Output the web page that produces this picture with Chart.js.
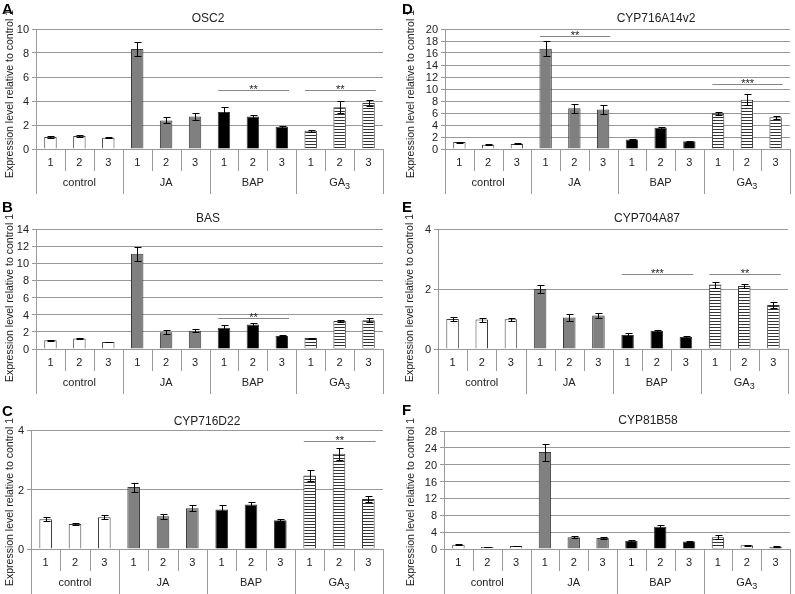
<!DOCTYPE html>
<html>
<head>
<meta charset="utf-8">
<script src="https://cdn.jsdelivr.net/npm/chart.js@4.4.1/dist/chart.umd.min.js"></script>
<style>
  body { margin: 0; background: #fff; width: 795px; height: 594px; position: relative; overflow: hidden; }
  canvas { position: absolute; }
</style>
</head>
<body>
<script>
// sample labels and treatment groups (shared by all panels)
const samples = ['1', '2', '3', '1', '2', '3', '1', '2', '3', '1', '2', '3'];
const treatments = ['control', 'JA', 'BAP', 'GA|3'];

// A - OSC2
const osc2Mean = [1.0, 1.08, 0.93, 8.33, 2.38, 2.7, 3.08, 2.7, 1.85, 1.52, 3.48, 3.83];
const osc2Err = [0.05, 0.07, 0.05, 0.55, 0.25, 0.28, 0.38, 0.15, 0.06, 0.08, 0.52, 0.25];
const osc2Ticks = [0, 2, 4, 6, 8, 10];
const osc2Sig = [[6, 8, 4.95, '**'], [9, 11, 4.95, '**']];

// B - BAS
const basMean = [1.03, 1.22, 0.82, 11.1, 1.96, 2.12, 2.48, 2.85, 1.52, 1.27, 3.28, 3.36];
const basErr = [0.06, 0.08, 0.05, 0.85, 0.2, 0.18, 0.3, 0.22, 0.06, 0.07, 0.15, 0.22];
const basTicks = [0, 2, 4, 6, 8, 10, 12, 14];
const basSig = [[6, 8, 3.6, '**']];

// C - CYP716D22
const d22Mean = [1.0, 0.84, 1.07, 2.08, 1.1, 1.37, 1.33, 1.5, 0.97, 2.47, 3.2, 1.68];
const d22Err = [0.06, 0.05, 0.06, 0.15, 0.09, 0.1, 0.14, 0.09, 0.04, 0.17, 0.21, 0.09];
const d22Ticks = [0, 2, 4];
const d22Sig = [[9, 11, 3.63, '**']];

// D - CYP716A14v2
const a14Mean = [1.15, 0.7, 0.85, 16.7, 6.8, 6.6, 1.6, 3.55, 1.28, 5.95, 8.2, 5.28];
const a14Err = [0.1, 0.08, 0.08, 1.25, 0.75, 0.7, 0.15, 0.15, 0.1, 0.2, 0.9, 0.3];
const a14Ticks = [0, 2, 4, 6, 8, 10, 12, 14, 16, 18, 20];
const a14Sig = [[3, 5, 18.8, '**'], [9, 11, 10.9, '***']];

// E - CYP704A87
const a87Mean = [1.0, 0.98, 0.99, 2.0, 1.05, 1.12, 0.47, 0.6, 0.4, 2.15, 2.1, 1.47];
const a87Err = [0.07, 0.07, 0.06, 0.13, 0.1, 0.09, 0.05, 0.02, 0.02, 0.1, 0.08, 0.1];
const a87Ticks = [0, 2, 4];
const a87Sig = [[6, 8, 2.5, '***'], [9, 11, 2.5, '**']];

// F - CYP81B58
const b58Mean = [1.0, 0.5, 0.7, 23.0, 2.8, 2.6, 1.9, 5.3, 1.8, 2.8, 0.9, 0.5];
const b58Err = [0.1, 0.05, 0.08, 2.0, 0.3, 0.3, 0.15, 0.35, 0.1, 0.5, 0.1, 0.1];
const b58Ticks = [0, 4, 8, 12, 16, 20, 24, 28];
const b58Sig = [];

const FONT = '"Liberation Sans", Arial, sans-serif';
const INK = '#222';
const LINE = '#999';

// horizontal-stripe fill for the GA3 bars
const stripe = document.createElement('canvas');
stripe.width = 4;
stripe.height = 3;
const sctx = stripe.getContext('2d');
sctx.fillStyle = '#fff';
sctx.fillRect(0, 0, 4, 3);
sctx.fillStyle = '#333';
sctx.fillRect(0, 0, 4, 1);

function barFill(c) {
  const i = c.dataIndex;
  if (i < 3) return '#fff';
  if (i < 6) return '#808080';
  if (i < 9) return '#000';
  return c.chart.ctx.createPattern(stripe, 'repeat');
}

const deco = {
  id: 'deco',
  afterDatasetsDraw(chart, args, o) {
    const ctx = chart.ctx;
    const xs = chart.scales.x, ys = chart.scales.y;
    const catW = (xs.right - xs.left) / samples.length;
    ctx.save();
    // y tick labels from the y scale
    ctx.fillStyle = INK;
    ctx.font = '11px ' + FONT;
    ctx.textAlign = 'right';
    ctx.textBaseline = 'alphabetic';
    ys.ticks.forEach(t => {
      ctx.fillText(String(t.value), ys.right - 7, Math.round(ys.getPixelForValue(t.value)) + 4);
    });
    // error bars
    ctx.strokeStyle = '#000';
    ctx.lineWidth = 1;
    o.mean.forEach((v, i) => {
      const x = Math.round(xs.getPixelForValue(i)) + 0.5;
      const y1 = Math.round(ys.getPixelForValue(v + o.err[i])) + 0.5;
      const y2 = Math.round(ys.getPixelForValue(v - o.err[i])) + 0.5;
      ctx.beginPath();
      ctx.moveTo(x, y1); ctx.lineTo(x, y2);
      ctx.moveTo(x - 3, y1); ctx.lineTo(x + 4, y1);
      ctx.moveTo(x - 3, y2); ctx.lineTo(x + 4, y2);
      ctx.stroke();
    });
    // significance lines
    o.sig.forEach(([a, b, lvl, txt]) => {
      const x1 = xs.getPixelForValue(a) - 0.2 * catW;
      const x2 = xs.getPixelForValue(b) + 0.25 * catW;
      const y = Math.round(ys.getPixelForValue(lvl)) + 0.5;
      ctx.strokeStyle = '#888';
      ctx.beginPath();
      ctx.moveTo(x1, y); ctx.lineTo(x2, y);
      ctx.stroke();
      ctx.fillStyle = INK;
      ctx.font = '11px ' + FONT;
      ctx.textAlign = 'center';
      ctx.textBaseline = 'alphabetic';
      ctx.fillText(txt, (x1 + x2) / 2, y + 2);
    });
    ctx.restore();
  },
  afterDraw(chart, args, o) {
    const ctx = chart.ctx;
    const xs = chart.scales.x;
    const catW = (xs.right - xs.left) / samples.length;
    const base = xs.top;
    ctx.save();
    // category separators
    ctx.strokeStyle = LINE;
    ctx.lineWidth = 1;
    for (let i = 0; i <= samples.length; i++) {
      const x = Math.round(xs.left + i * catW) + 0.5;
      ctx.beginPath();
      ctx.moveTo(x, base);
      ctx.lineTo(x, base + (i % 3 === 0 ? 45 : 22));
      ctx.stroke();
    }
    ctx.fillStyle = INK;
    ctx.font = '11px ' + FONT;
    ctx.textAlign = 'center';
    ctx.textBaseline = 'middle';
    samples.forEach((s, i) => ctx.fillText(s, xs.getPixelForValue(i), base + 14));
    treatments.forEach((t, g) => {
      const cx = xs.left + (g * 3 + 1.5) * catW;
      const [main, sub] = t.split('|');
      if (!sub) {
        ctx.fillText(main, cx, base + 34);
        return;
      }
      ctx.font = '11px ' + FONT;
      const w1 = ctx.measureText(main).width;
      ctx.font = '9px ' + FONT;
      const w2 = ctx.measureText(sub).width;
      const left = cx - (w1 + w2) / 2;
      ctx.textAlign = 'left';
      ctx.font = '11px ' + FONT;
      ctx.fillText(main, left, base + 34);
      ctx.font = '9px ' + FONT;
      ctx.fillText(sub, left + w1, base + 38);
      ctx.textAlign = 'center';
      ctx.font = '11px ' + FONT;
    });
    // panel title
    ctx.textAlign = 'center';
    ctx.textBaseline = 'middle';
    ctx.font = '12px ' + FONT;
    ctx.fillStyle = INK;
    ctx.fillText(o.title, o.titleX, o.titleY);
    // y axis title
    ctx.save();
    ctx.translate(o.yTitleX, o.yTitleY);
    ctx.rotate(-Math.PI / 2);
    ctx.font = '10.5px ' + FONT;
    ctx.fillText('Expression level relative to control 1', 0, 0);
    ctx.restore();
    // panel letter
    ctx.textAlign = 'left';
    ctx.textBaseline = 'alphabetic';
    ctx.font = 'bold 15px ' + FONT;
    ctx.fillStyle = '#000';
    ctx.fillText(o.letter, o.letterX, o.letterY);
    ctx.restore();
  }
};

function makePanel(p) {
  const cv = document.createElement('canvas');
  cv.width = p.box.w;
  cv.height = p.box.h;
  cv.style.left = p.box.x + 'px';
  cv.style.top = p.box.y + 'px';
  document.body.appendChild(cv);
  const ticks = p.ticks;
  new Chart(cv, {
    type: 'bar',
    data: {
      labels: samples,
      datasets: [{
        data: p.mean,
        backgroundColor: barFill,
        borderColor: '#3a3a3a',
        borderWidth: 1,
        barPercentage: 0.43,
        categoryPercentage: 1
      }]
    },
    options: {
      responsive: false,
      animation: false,
      devicePixelRatio: 1,
      layout: {
        padding: { top: p.area.t - p.box.y, right: p.box.x + p.box.w - p.area.r, bottom: 0, left: 0 }
      },
      plugins: {
        legend: { display: false },
        tooltip: { enabled: false },
        deco: {
          mean: p.mean, err: p.err, sig: p.sig,
          letter: p.letter, letterX: p.letterPos[0] - p.box.x, letterY: p.letterPos[1] - p.box.y,
          title: p.title, titleX: p.titlePos[0] - p.box.x, titleY: p.titlePos[1] - p.box.y,
          yTitleX: p.yTitlePos[0] - p.box.x, yTitleY: p.yTitlePos[1] - p.box.y
        }
      },
      scales: {
        x: {
          ticks: { display: false },
          grid: { display: false },
          border: { color: LINE },
          afterFit(s) { s.height = p.box.y + p.box.h - p.area.b; }
        },
        y: {
          min: 0,
          max: ticks[ticks.length - 1],
          afterBuildTicks(s) { s.ticks = ticks.map(v => ({ value: v })); },
          ticks: { display: false, autoSkip: false },
          grid: { color: LINE, tickLength: 4 },
          border: { color: LINE },
          afterFit(s) { s.width = p.area.l - p.box.x; }
        }
      }
    },
    plugins: [deco]
  });
}

makePanel({ letter: 'A', title: 'OSC2', mean: osc2Mean, err: osc2Err, ticks: osc2Ticks, sig: osc2Sig,
  box: { x: 0, y: 0, w: 398, h: 200 }, area: { l: 36, t: 29, r: 383, b: 149 },
  letterPos: [2, 14], titlePos: [208, 19], yTitlePos: [10, 94] });
makePanel({ letter: 'B', title: 'BAS', mean: basMean, err: basErr, ticks: basTicks, sig: basSig,
  box: { x: 0, y: 198, w: 398, h: 200 }, area: { l: 36, t: 229, r: 383, b: 349 },
  letterPos: [2, 212], titlePos: [208, 219], yTitlePos: [10, 298] });
makePanel({ letter: 'C', title: 'CYP716D22', mean: d22Mean, err: d22Err, ticks: d22Ticks, sig: d22Sig,
  box: { x: 0, y: 398, w: 398, h: 196 }, area: { l: 31, t: 430, r: 383, b: 549 },
  letterPos: [2, 416], titlePos: [207, 422], yTitlePos: [10, 502] });
makePanel({ letter: 'D', title: 'CYP716A14v2', mean: a14Mean, err: a14Err, ticks: a14Ticks, sig: a14Sig,
  box: { x: 398, y: 0, w: 397, h: 200 }, area: { l: 445, t: 29, r: 790, b: 149 },
  letterPos: [402, 14], titlePos: [656, 19], yTitlePos: [411, 94] });
makePanel({ letter: 'E', title: 'CYP704A87', mean: a87Mean, err: a87Err, ticks: a87Ticks, sig: a87Sig,
  box: { x: 398, y: 198, w: 397, h: 200 }, area: { l: 438, t: 229, r: 788, b: 349 },
  letterPos: [402, 212], titlePos: [647, 219], yTitlePos: [410, 298] });
makePanel({ letter: 'F', title: 'CYP81B58', mean: b58Mean, err: b58Err, ticks: b58Ticks, sig: b58Sig,
  box: { x: 398, y: 398, w: 397, h: 196 }, area: { l: 444, t: 431, r: 790, b: 549 },
  letterPos: [402, 415], titlePos: [648, 421], yTitlePos: [411, 502] });
</script>
</body>
</html>
